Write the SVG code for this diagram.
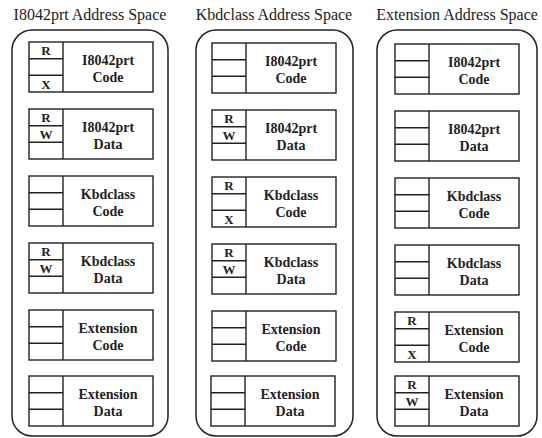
<svg xmlns="http://www.w3.org/2000/svg" width="542" height="438" viewBox="0 0 542 438" font-family="Liberation Serif, Times New Roman, Times, DejaVu Serif, serif">
<style>
.bg{fill:#fff}
.cont{fill:none;stroke:#222;stroke-width:1.5}
.box{fill:#fff;stroke:#222;stroke-width:1.4}
.ln{stroke:#222;stroke-width:1.4}
text{fill:#222;text-anchor:middle}
.title{font-size:16px}
.lbl{font-size:14px;font-weight:bold}
.rw{font-size:13px;font-weight:bold}
</style>
<rect class="bg" x="0" y="0" width="542" height="438"/>
<defs>
<g id="cells">
<rect class="box" x="0" y="0" width="124" height="50"/>
<line class="ln" x1="34" y1="0" x2="34" y2="50"/>
<line class="ln" x1="0" y1="16.7" x2="34" y2="16.7"/>
<line class="ln" x1="0" y1="33.3" x2="34" y2="33.3"/>
</g>
</defs>

<g id="space1">
<text class="title" x="90" y="20">I8042prt Address Space</text>
<rect class="cont" x="12" y="30" width="156" height="406" rx="20"/>
<g id="s1-i8042-code" transform="translate(29,42)"><use href="#cells"/><text class="rw" x="17" y="13">R</text><text class="rw" x="17" y="47">X</text><text class="lbl" x="79" y="23">I8042prt</text><text class="lbl" x="79" y="40">Code</text></g>
<g id="s1-i8042-data" transform="translate(29,109)"><use href="#cells"/><text class="rw" x="17" y="13">R</text><text class="rw" x="17" y="30">W</text><text class="lbl" x="79" y="23">I8042prt</text><text class="lbl" x="79" y="40">Data</text></g>
<g id="s1-kbd-code" transform="translate(29,176)"><use href="#cells"/><text class="lbl" x="79" y="23">Kbdclass</text><text class="lbl" x="79" y="40">Code</text></g>
<g id="s1-kbd-data" transform="translate(29,243)"><use href="#cells"/><text class="rw" x="17" y="13">R</text><text class="rw" x="17" y="30">W</text><text class="lbl" x="79" y="23">Kbdclass</text><text class="lbl" x="79" y="40">Data</text></g>
<g id="s1-ext-code" transform="translate(29,310)"><use href="#cells"/><text class="lbl" x="79" y="23">Extension</text><text class="lbl" x="79" y="40">Code</text></g>
<g id="s1-ext-data" transform="translate(29,376)"><use href="#cells"/><text class="lbl" x="79" y="23">Extension</text><text class="lbl" x="79" y="40">Data</text></g>
</g>

<g id="space2">
<text class="title" x="274" y="20">Kbdclass Address Space</text>
<rect class="cont" x="196" y="30" width="157" height="406" rx="20"/>
<g id="s2-i8042-code" transform="translate(212,43)"><use href="#cells"/><text class="lbl" x="79" y="23">I8042prt</text><text class="lbl" x="79" y="40">Code</text></g>
<g id="s2-i8042-data" transform="translate(212,110)"><use href="#cells"/><text class="rw" x="17" y="13">R</text><text class="rw" x="17" y="30">W</text><text class="lbl" x="79" y="23">I8042prt</text><text class="lbl" x="79" y="40">Data</text></g>
<g id="s2-kbd-code" transform="translate(212,177)"><use href="#cells"/><text class="rw" x="17" y="13">R</text><text class="rw" x="17" y="47">X</text><text class="lbl" x="79" y="23">Kbdclass</text><text class="lbl" x="79" y="40">Code</text></g>
<g id="s2-kbd-data" transform="translate(212,244)"><use href="#cells"/><text class="rw" x="17" y="13">R</text><text class="rw" x="17" y="30">W</text><text class="lbl" x="79" y="23">Kbdclass</text><text class="lbl" x="79" y="40">Data</text></g>
<g id="s2-ext-code" transform="translate(212,311)"><use href="#cells"/><text class="lbl" x="79" y="23">Extension</text><text class="lbl" x="79" y="40">Code</text></g>
<g id="s2-ext-data" transform="translate(211,376)"><use href="#cells"/><text class="lbl" x="79" y="23">Extension</text><text class="lbl" x="79" y="40">Data</text></g>
</g>

<g id="space3">
<text class="title" x="457" y="20">Extension Address Space</text>
<rect class="cont" x="377" y="30" width="160" height="406" rx="20"/>
<g id="s3-i8042-code" transform="translate(395,44)"><use href="#cells"/><text class="lbl" x="79" y="23">I8042prt</text><text class="lbl" x="79" y="40">Code</text></g>
<g id="s3-i8042-data" transform="translate(395,111)"><use href="#cells"/><text class="lbl" x="79" y="23">I8042prt</text><text class="lbl" x="79" y="40">Data</text></g>
<g id="s3-kbd-code" transform="translate(395,178)"><use href="#cells"/><text class="lbl" x="79" y="23">Kbdclass</text><text class="lbl" x="79" y="40">Code</text></g>
<g id="s3-kbd-data" transform="translate(395,245)"><use href="#cells"/><text class="lbl" x="79" y="23">Kbdclass</text><text class="lbl" x="79" y="40">Data</text></g>
<g id="s3-ext-code" transform="translate(395,312)"><use href="#cells"/><text class="rw" x="17" y="13">R</text><text class="rw" x="17" y="47">X</text><text class="lbl" x="79" y="23">Extension</text><text class="lbl" x="79" y="40">Code</text></g>
<g id="s3-ext-data" transform="translate(395,376)"><use href="#cells"/><text class="rw" x="17" y="13">R</text><text class="rw" x="17" y="30">W</text><text class="lbl" x="79" y="23">Extension</text><text class="lbl" x="79" y="40">Data</text></g>
</g>
<g id="connectors"/>
</svg>
